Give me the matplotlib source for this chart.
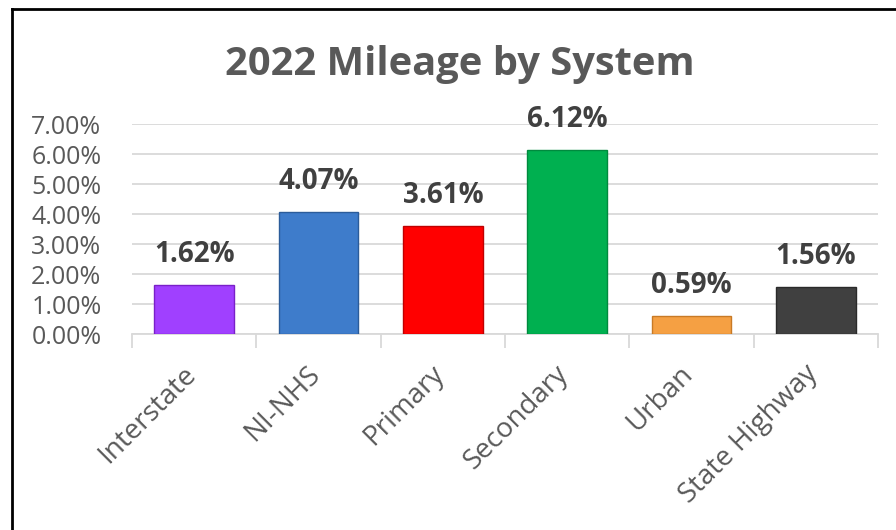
import matplotlib
matplotlib.use("Agg")
import matplotlib.pyplot as plt
from matplotlib.lines import Line2D
import matplotlib.transforms as mtransforms

categories = ["Interstate", "NI-NHS", "Primary", "Secondary", "Urban", "State Highway"]
values = [1.62, 4.07, 3.61, 6.12, 0.59, 1.56]
colors = ["#A040FF", "#3E7CCB", "#FF0000", "#00B050", "#F5A043", "#404040"]
edges = ["#7A20C8", "#2B5C9A", "#C00000", "#008A3E", "#C87A25", "#2A2A2A"]
yticks = [0, 1, 2, 3, 4, 5, 6, 7]
ytick_labels = ["0.00%", "1.00%", "2.00%", "3.00%", "4.00%", "5.00%", "6.00%", "7.00%"]
title = "2022 Mileage by System"

W, H = 896, 530
fig = plt.figure(figsize=(W / 100, H / 100), dpi=100)
fig.patch.set_facecolor("white")

ax = fig.add_axes([132 / W, (H - 334) / H, (878 - 132) / W, (334 - 124) / H])
x = list(range(len(categories)))
ax.bar(x, values, width=0.64, color=colors, edgecolor=edges, linewidth=1.0, zorder=3)

ax.set_xlim(-0.5, len(categories) - 0.5)
ax.set_ylim(0, 7)
ax.set_yticks(yticks)
ax.set_yticklabels(ytick_labels, fontsize=18, color="#595959", family="Open Sans")
ax.tick_params(axis="y", length=0, pad=22)
ax.yaxis.grid(True, color="#D9D9D9", linewidth=1.3, zorder=0)
for s in ["top", "right", "left"]:
    ax.spines[s].set_visible(False)
ax.spines["bottom"].set_color("#D9D9D9")
ax.spines["bottom"].set_linewidth(1.3)

# category boundary ticks
ax.set_xticks([i - 0.5 for i in range(len(categories) + 1)], minor=False)
ax.set_xticklabels([])
ax.tick_params(axis="x", length=10, width=1.3, color="#D9D9D9", direction="out")

offset = mtransforms.ScaledTranslation(0, -36 / 100, fig.dpi_scale_trans)
for i, c in enumerate(categories):
    ax.text(i - 0.02, 0, c, transform=ax.transData + offset, rotation=45,
            rotation_mode="anchor", ha="right", va="center",
            fontsize=20, color="#595959", family="Open Sans")

voff = mtransforms.ScaledTranslation(0, 16 / 100, fig.dpi_scale_trans)
for i, v in enumerate(values):
    ax.text(i, v, f"{v:.2f}%", transform=ax.transData + voff, ha="center", va="bottom",
            fontsize=20, fontweight="bold", color="#404040", family="Open Sans")

fig.text(460 / W, (H - 64) / H, title, ha="center", va="center",
         fontsize=28.7, fontweight="bold", color="#595959", family="Open Sans")

# chart border (top and left visible)
fig.add_artist(Line2D([12 / W, 1], [(H - 9) / H, (H - 9) / H], color="black", linewidth=2.0))
fig.add_artist(Line2D([12 / W, 12 / W], [0, (H - 9) / H], color="black", linewidth=2.0))

fig.savefig("out.png", dpi=100)
